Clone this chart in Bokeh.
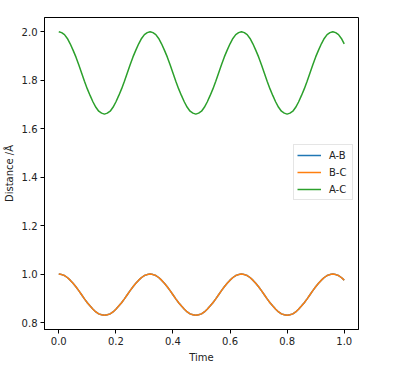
from bokeh.plotting import figure
from bokeh.models import Range1d, FixedTicker, Legend, LegendItem
from bokeh.embed import file_html
from bokeh.resources import INLINE

time = [0.00, 0.01, 0.02, 0.03, 0.04, 0.05, 0.06, 0.07, 0.08, 0.09,
        0.10, 0.11, 0.12, 0.13, 0.14, 0.15, 0.16, 0.17, 0.18, 0.19,
        0.20, 0.21, 0.22, 0.23, 0.24, 0.25, 0.26, 0.27, 0.28, 0.29,
        0.30, 0.31, 0.32, 0.33, 0.34, 0.35, 0.36, 0.37, 0.38, 0.39,
        0.40, 0.41, 0.42, 0.43, 0.44, 0.45, 0.46, 0.47, 0.48, 0.49,
        0.50, 0.51, 0.52, 0.53, 0.54, 0.55, 0.56, 0.57, 0.58, 0.59,
        0.60, 0.61, 0.62, 0.63, 0.64, 0.65, 0.66, 0.67, 0.68, 0.69,
        0.70, 0.71, 0.72, 0.73, 0.74, 0.75, 0.76, 0.77, 0.78, 0.79,
        0.80, 0.81, 0.82, 0.83, 0.84, 0.85, 0.86, 0.87, 0.88, 0.89,
        0.90, 0.91, 0.92, 0.93, 0.94, 0.95, 0.96, 0.97, 0.98, 0.99, 1.00]

dist_ab = [1.000, 0.998, 0.994, 0.986, 0.975, 0.962, 0.948, 0.932, 0.915, 0.898, 0.882, 0.868, 0.855, 0.844, 0.836, 0.832,
           0.830, 0.832, 0.836, 0.844, 0.855, 0.868, 0.882, 0.898, 0.915, 0.932, 0.948, 0.962, 0.975, 0.986, 0.994, 0.998,
           1.000, 0.998, 0.994, 0.986, 0.975, 0.962, 0.948, 0.932, 0.915, 0.898, 0.882, 0.868, 0.855, 0.844, 0.836, 0.832,
           0.830, 0.832, 0.836, 0.844, 0.855, 0.868, 0.882, 0.898, 0.915, 0.932, 0.948, 0.962, 0.975, 0.986, 0.994, 0.998,
           1.000, 0.998, 0.994, 0.986, 0.975, 0.962, 0.948, 0.932, 0.915, 0.898, 0.882, 0.868, 0.855, 0.844, 0.836, 0.832,
           0.830, 0.832, 0.836, 0.844, 0.855, 0.868, 0.882, 0.898, 0.915, 0.932, 0.948, 0.962, 0.975, 0.986, 0.994, 0.998,
           1.000, 0.998, 0.994, 0.986, 0.975]

dist_bc = [1.000, 0.998, 0.994, 0.986, 0.975, 0.962, 0.948, 0.932, 0.915, 0.898, 0.882, 0.868, 0.855, 0.844, 0.836, 0.832,
           0.830, 0.832, 0.836, 0.844, 0.855, 0.868, 0.882, 0.898, 0.915, 0.932, 0.948, 0.962, 0.975, 0.986, 0.994, 0.998,
           1.000, 0.998, 0.994, 0.986, 0.975, 0.962, 0.948, 0.932, 0.915, 0.898, 0.882, 0.868, 0.855, 0.844, 0.836, 0.832,
           0.830, 0.832, 0.836, 0.844, 0.855, 0.868, 0.882, 0.898, 0.915, 0.932, 0.948, 0.962, 0.975, 0.986, 0.994, 0.998,
           1.000, 0.998, 0.994, 0.986, 0.975, 0.962, 0.948, 0.932, 0.915, 0.898, 0.882, 0.868, 0.855, 0.844, 0.836, 0.832,
           0.830, 0.832, 0.836, 0.844, 0.855, 0.868, 0.882, 0.898, 0.915, 0.932, 0.948, 0.962, 0.975, 0.986, 0.994, 0.998,
           1.000, 0.998, 0.994, 0.986, 0.975]

dist_ac = [2.000, 1.996, 1.988, 1.972, 1.950, 1.924, 1.896, 1.864, 1.830, 1.796, 1.764, 1.736, 1.710, 1.688, 1.672, 1.664,
           1.660, 1.664, 1.672, 1.688, 1.710, 1.736, 1.764, 1.796, 1.830, 1.864, 1.896, 1.924, 1.950, 1.972, 1.988, 1.996,
           2.000, 1.996, 1.988, 1.972, 1.950, 1.924, 1.896, 1.864, 1.830, 1.796, 1.764, 1.736, 1.710, 1.688, 1.672, 1.664,
           1.660, 1.664, 1.672, 1.688, 1.710, 1.736, 1.764, 1.796, 1.830, 1.864, 1.896, 1.924, 1.950, 1.972, 1.988, 1.996,
           2.000, 1.996, 1.988, 1.972, 1.950, 1.924, 1.896, 1.864, 1.830, 1.796, 1.764, 1.736, 1.710, 1.688, 1.672, 1.664,
           1.660, 1.664, 1.672, 1.688, 1.710, 1.736, 1.764, 1.796, 1.830, 1.864, 1.896, 1.924, 1.950, 1.972, 1.988, 1.996,
           2.000, 1.996, 1.988, 1.972, 1.950]

series_names = ["A-B", "B-C", "A-C"]
series_colors = ["#1f77b4", "#ff7f0e", "#2ca02c"]

x_ticks = [0.0, 0.2, 0.4, 0.6, 0.8, 1.0]
x_tick_labels = ["0.0", "0.2", "0.4", "0.6", "0.8", "1.0"]
y_ticks = [0.8, 1.0, 1.2, 1.4, 1.6, 1.8, 2.0]
y_tick_labels = ["0.8", "1.0", "1.2", "1.4", "1.6", "1.8", "2.0"]

FONT = "DejaVu Sans"
TXT = "#222222"

p = figure(frame_width=314, frame_height=312,
           x_range=Range1d(-0.05, 1.05), y_range=Range1d(0.7715, 2.0585),
           output_backend="svg", toolbar_location=None,
           min_border_left=39, min_border_top=17, min_border_right=31, min_border_bottom=34,
           background_fill_color="white", border_fill_color="white")

p.xgrid.visible = False
p.ygrid.visible = False
p.outline_line_color = "black"
p.outline_line_width = 1

for ax, ticks, labels in ((p.xaxis[0], x_ticks, x_tick_labels), (p.yaxis[0], y_ticks, y_tick_labels)):
    ax.ticker = FixedTicker(ticks=ticks)
    ax.major_label_overrides = {t: l for t, l in zip(ticks, labels)}
    ax.minor_tick_line_color = None
    ax.major_tick_out = 4
    ax.major_tick_in = 0
    ax.major_tick_line_color = "black"
    ax.axis_line_color = "black"
    ax.major_label_text_font = FONT
    ax.major_label_text_font_size = "10px"
    ax.major_label_text_color = TXT
    ax.major_label_standoff = 3
    ax.axis_label_text_font = FONT
    ax.axis_label_text_font_size = "10px"
    ax.axis_label_text_font_style = "normal"
    ax.axis_label_text_color = TXT
    ax.axis_label_standoff = 4

p.xaxis[0].axis_label = "Time"
p.yaxis[0].axis_label = "Distance /Å"

items = []
for name, color, ys in zip(series_names, series_colors, (dist_ab, dist_bc, dist_ac)):
    r = p.line(time, ys, line_color=color, line_width=1.5)
    items.append(LegendItem(label=name, renderers=[r]))

legend = Legend(items=items, location=(249, 129))
legend.label_text_font = FONT
legend.label_text_font_size = "10px"
legend.label_text_color = TXT
legend.glyph_width = 24
legend.glyph_height = 14
legend.label_height = 14
legend.label_standoff = 8
legend.spacing = 3
legend.padding = 3
legend.margin = 0
legend.border_line_color = "#cccccc"
legend.border_line_width = 1
legend.background_fill_alpha = 0.8
p.add_layout(legend)

open("out.html", "w").write(file_html(p, INLINE))
